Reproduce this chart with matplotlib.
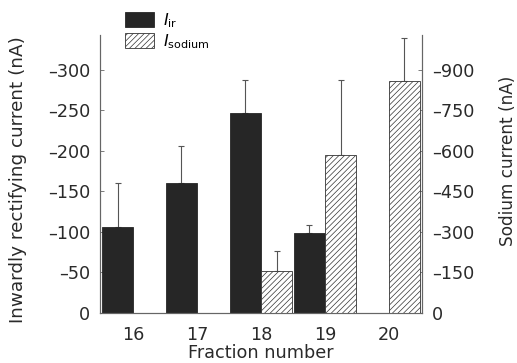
import numpy as np
import matplotlib
matplotlib.use('Agg')
import matplotlib.pyplot as plt
from matplotlib.patches import Patch

plt.rcParams['font.family'] = ['DejaVu Sans']
plt.rcParams['mathtext.fontset'] = 'dejavusans'
plt.rcParams['hatch.linewidth'] = 0.5

# values
fractions = [16, 17, 18, 19, 20]
ir = [106, 161, 247, 99, None]
ir_err = [55, 45, 41, 10, None]
sodium = [None, None, 155, 585, 860]
sodium_err = [None, None, 73, 277, 158]

left_ticks = [0, 50, 100, 150, 200, 250, 300]
right_ticks = [0, 150, 300, 450, 600, 750, 900]

dark = '#262626'
axis_col = '#666666'
text_col = '#2a2a2a'
w = 0.49

fig = plt.figure(figsize=(5.17, 3.63), dpi=100)
ax = fig.add_axes([100/517, 1-313/363, 322/517, 278/363])
ax2 = ax.twinx()

xi = [f for f, v in zip(fractions, ir) if v is not None]
yi = [v for v in ir if v is not None]
ei = [e for e in ir_err if e is not None]
ax.bar(xi, yi, width=-w, align='edge', color=dark, edgecolor=dark, lw=0.6, zorder=2)
ax.errorbar([x - w/2 for x in xi], yi, yerr=[np.zeros(len(ei)), ei], fmt='none',
            ecolor='#555555', elinewidth=0.8, capsize=2, capthick=0.8, zorder=1)

xs = [f for f, v in zip(fractions, sodium) if v is not None]
ys = [v for v in sodium if v is not None]
es = [e for e in sodium_err if e is not None]
ax2.bar(xs, ys, width=w, align='edge', color='white', edgecolor='#333333',
        hatch='//////', lw=0.6, zorder=2)
ax2.errorbar([x + w/2 for x in xs], ys, yerr=[np.zeros(len(es)), es], fmt='none',
             ecolor='#555555', elinewidth=0.8, capsize=2, capthick=0.8, zorder=1)

ax.set_xlim(15.48, 20.52)
ax.set_ylim(0, 343)
ax2.set_ylim(0, 1029)
ax.set_xticks(fractions)
ax.set_yticks(left_ticks)
ax.set_yticklabels([str(t) if t == 0 else '\u2013' + str(t) for t in left_ticks])
ax2.set_yticks(right_ticks)
ax2.set_yticklabels([str(t) if t == 0 else '\u2013' + str(t) for t in right_ticks])

for a in (ax, ax2):
    a.spines['top'].set_visible(False)
    for s in ('left', 'right', 'bottom'):
        a.spines[s].set_color(axis_col)
        a.spines[s].set_linewidth(0.8)
    a.tick_params(axis='both', direction='in', length=3, width=0.6, color=axis_col,
                  labelsize=12.7, labelcolor=text_col)
ax.tick_params(axis='y', pad=7)
ax2.tick_params(axis='y', pad=7)
ax.tick_params(axis='x', pad=9, length=0)

ax.set_xlabel('Fraction number', fontsize=12.7, color=text_col, labelpad=0)
ax.set_ylabel('Inwardly rectifying current (nA)', fontsize=13.2, color=text_col)
ax2.set_ylabel('Sodium current (nA)', fontsize=12.2, color=text_col)
ax.yaxis.set_label_coords(-0.227, 0.48)
ax2.yaxis.set_label_coords(1.24, 0.547)

handles = [Patch(facecolor=dark, edgecolor=dark, lw=0.6),
           Patch(facecolor='white', edgecolor='#333333', hatch='//////', lw=0.6)]
fig.legend(handles, [r'$\mathit{I}_{\rm ir}$', r'$\mathit{I}_{\rm sodium}$'],
           loc='upper left', bbox_to_anchor=(125/517, 1-11/363), frameon=False,
           fontsize=11.5, handlelength=1.8, handleheight=1.05, handletextpad=0.6,
           labelspacing=0.15, borderpad=0, borderaxespad=0)

fig.savefig('out.png', dpi=100)
